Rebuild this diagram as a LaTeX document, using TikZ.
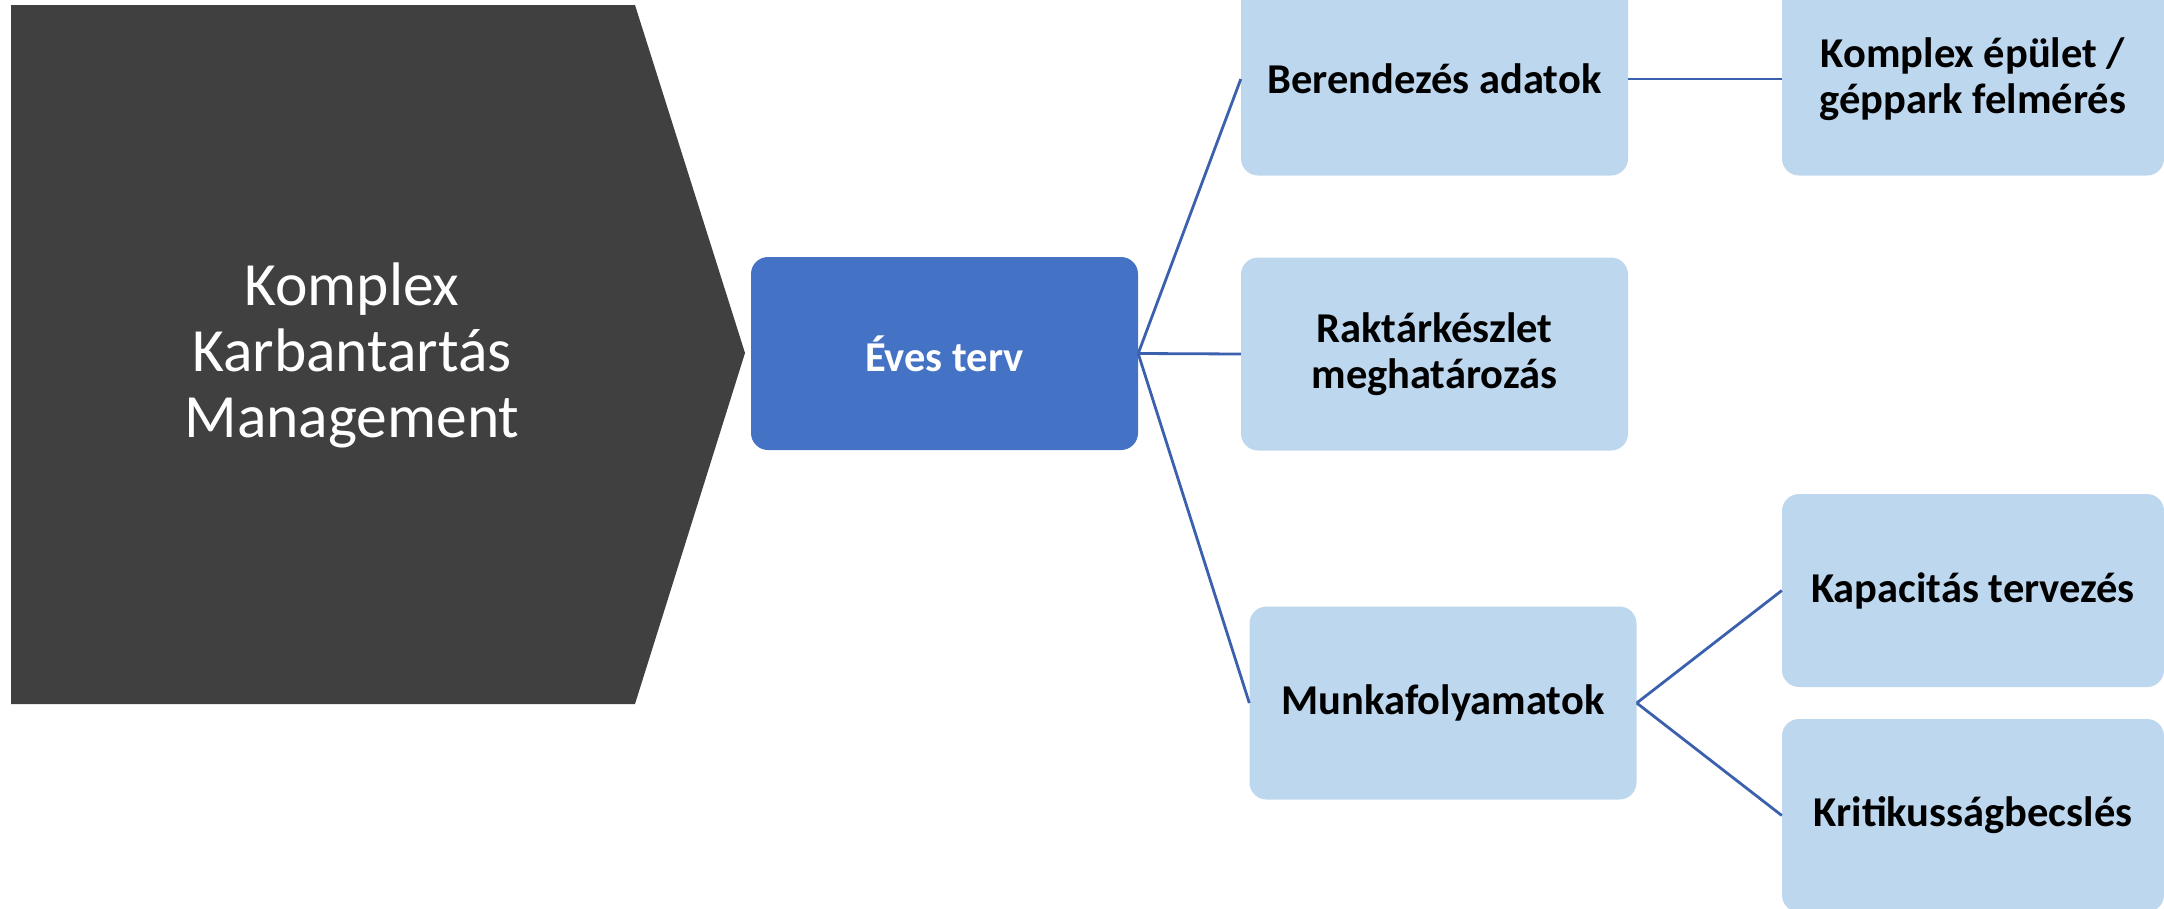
\documentclass[tikz,border=0pt]{standalone}
\usepackage{fontspec}
\setmainfont{Carlito}
\definecolor{darkgrey}{HTML}{404040}
\definecolor{midblue}{HTML}{4472C4}
\definecolor{paleblue}{HTML}{BDD7EE}
\definecolor{linkblue}{RGB}{59,96,174}
\tikzset{
  box/.style={rounded corners=17pt, minimum width=387pt, minimum height=193pt,
    inner sep=0pt, align=center, font=\fontsize{42.5}{46}\selectfont\bfseries},
  leaf/.style={box, fill=paleblue, text=black},
  rightleaf/.style={leaf, minimum width=382pt},
  link/.style={draw=linkblue, line width=2.8pt}
}
\begin{document}
\begin{tikzpicture}[x=1pt,y=-1pt]
\useasboundingbox (0,0) rectangle (2164,908);
\fill[darkgrey] (11,5) -- (635,5) -- (745,353) -- (635,704) -- (11,704) -- cycle;
\node[text=white, align=center, font=\fontsize{61.5}{66}\selectfont] (title) at (352,355)
  {Komplex\\Karbantartás\\Management};
\node[box, fill=midblue, text=white] (eves) at (944.5,353.5) {Éves terv};
\node[leaf] (ber) at (1434.5,79) {Berendezés adatok};
\node[leaf] (rak) at (1434.5,354) {Raktárkészlet\\meghatározás};
\node[leaf] (munka) at (1443,703) {Munkafolyamatok};
\node[rightleaf] (kompl) at (1973,79) {Komplex épület /\\géppark felmérés};
\node[rightleaf] (kap) at (1973,590.5) {Kapacitás tervezés};
\node[rightleaf] (krit) at (1973,815.5) {Kritikusságbecslés};
\draw[link] (eves.east) -- (ber.west);
\draw[link] (eves.east) -- (rak.west);
\draw[link] (eves.east) -- (munka.west);
\draw[link] (ber.east) -- (kompl.west);
\draw[link] (munka.east) -- (kap.west);
\draw[link] (munka.east) -- (krit.west);
\end{tikzpicture}
\end{document}
